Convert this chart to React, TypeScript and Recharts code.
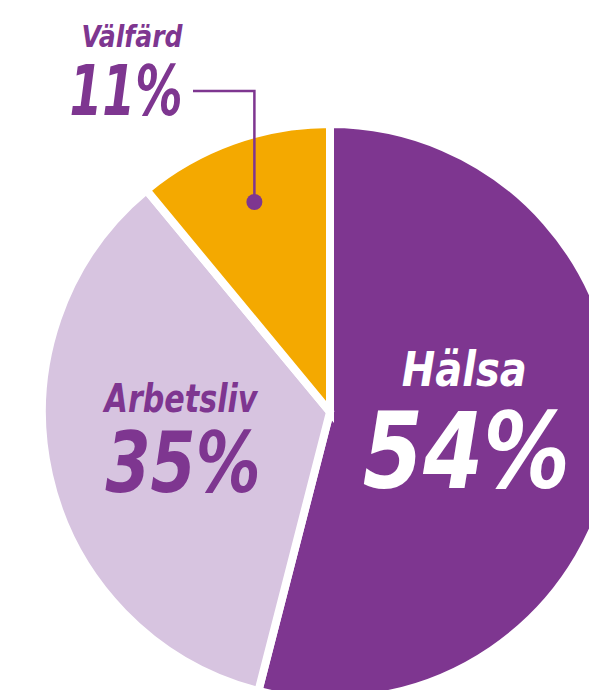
import { PieChart, Pie, Cell } from 'recharts';

const categories = ['Hälsa', 'Arbetsliv', 'Välfärd'];
const shares = [54, 35, 11];
const sliceColors = ['#7E3690', '#D7C4E0', '#F4A900'];
const labelColors = ['#FFFFFF', '#7E3690', '#7E3690'];

const data = categories.map((name, i) => ({ name, value: shares[i] }));

const PURPLE = '#7E3690';
const RAD = Math.PI / 180;
const font = { fontFamily: '"DejaVu Sans", sans-serif', fontStyle: 'italic', fontWeight: 700, fontStretch: 'condensed' as const };

// per-slice label layout: radius factor, font sizes, widths, baseline offsets
const labelLayout: Record<string, { k: number; name: number; pct: number; nameW: number; pctW: number; nameDy: number; pctDy: number }> = {
  Hälsa: { k: 0.47, name: 48, pct: 106, nameW: 125, pctW: 207, nameDy: -43, pctDy: 59 },
  Arbetsliv: { k: 0.53, name: 39, pct: 83, nameW: 153, pctW: 155, nameDy: -33, pctDy: 47 },
};

function renderLabel(props: any) {
  const { cx, cy, midAngle, outerRadius, name, value, index } = props;
  const color = labelColors[index];
  if (name === 'Välfärd') {
    // leader line from inside the slice up and out to the left
    const dotX = cx + outerRadius * 0.775 * Math.cos(-midAngle * RAD);
    const dotY = cy + outerRadius * 0.775 * Math.sin(-midAngle * RAD);
    const lineY = 91;
    const endX = 193;
    return (
      <g key="lbl-v">
        <polyline points={`${dotX},${dotY} ${dotX},${lineY} ${endX},${lineY}`} fill="none" stroke={PURPLE} strokeWidth={2.5} />
        <circle cx={dotX} cy={dotY} r={8} fill={PURPLE} />
        <text x={132} y={47} textAnchor="middle" fill={color} fontSize={30} textLength={101} lengthAdjust="spacingAndGlyphs" style={font}>{name}</text>
        <text x={126} y={115} textAnchor="middle" fill={color} fontSize={70} textLength={113} lengthAdjust="spacingAndGlyphs" style={font}>{value}%</text>
      </g>
    );
  }
  const l = labelLayout[name];
  const x = cx + outerRadius * l.k * Math.cos(-midAngle * RAD);
  const y = cy + outerRadius * l.k * Math.sin(-midAngle * RAD);
  return (
    <g key={`lbl-${index}`}>
      <text x={x} y={y + l.nameDy} textAnchor="middle" fill={color} fontSize={l.name} textLength={l.nameW} lengthAdjust="spacingAndGlyphs" style={font}>{name}</text>
      <text x={x + 2} y={y + l.pctDy} textAnchor="middle" fill={color} fontSize={l.pct} textLength={l.pctW} lengthAdjust="spacingAndGlyphs" style={font}>{value}%</text>
    </g>
  );
}

export default function App() {
  return (
    <div style={{ position: 'fixed', left: 0, top: 0, width: 589, height: 690, background: '#fff', overflow: 'hidden' }}>
      <PieChart width={589} height={690} margin={{ top: 0, right: 0, bottom: 0, left: 0 }}>
        <Pie
          data={data}
          dataKey="value"
          nameKey="name"
          cx={330}
          cy={412}
          outerRadius={288}
          startAngle={90}
          endAngle={-270}
          stroke="#fff"
          strokeWidth={8}
          label={renderLabel}
          labelLine={false}
          isAnimationActive={false}
        >
          {data.map((d, i) => (
            <Cell key={d.name} fill={sliceColors[i]} />
          ))}
        </Pie>
      </PieChart>
    </div>
  );
}
